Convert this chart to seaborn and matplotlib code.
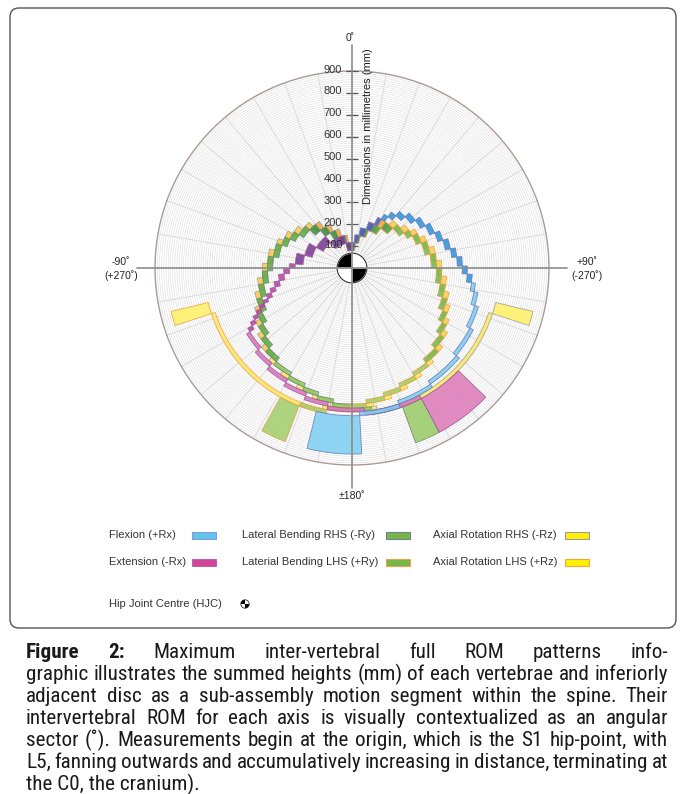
import numpy as np
import pandas as pd
import matplotlib
matplotlib.use('Agg')
import matplotlib.pyplot as plt
from matplotlib import font_manager
from matplotlib.patches import Rectangle, FancyBboxPatch, Wedge, Circle
import seaborn as sns

# motion segments from the S1 hip-point outwards, C0 = cranium
segments = ['L5', 'L4', 'L3', 'L2', 'L1',
            'T12', 'T11', 'T10', 'T9', 'T8', 'T7', 'T6', 'T5', 'T4', 'T3', 'T2', 'T1',
            'C7', 'C6', 'C5', 'C4', 'C3', 'C2', 'C1', 'C0']
region = ['lumbar'] * 5 + ['thoracic'] * 12 + ['cervical'] * 7 + ['cranium']
heights_mm = [36, 36, 36, 36, 36,
              26, 26, 25, 25, 24, 24, 24, 24, 23, 23, 23, 23,
              18, 18, 18, 18, 18, 17, 18, 175]
origin_mm = 80

# inter-vertebral ROM per segment (degrees)
flexion = [5, 7, 8, 7, 4, 4, 5, 6, 7, 7, 7, 6, 6, 5, 5, 4, 4, 4, 6, 10, 13, 16, 15, 16, 17]
extension = [14, 26, 20, 15, 11, 4, 5, 5, 4, 3, 3, 2, 2, 2, 2, 2, 2, 9, 9, 10, 10, 10, 15, 23, 18]
lat_bend_rhs = [12, 12, 8, 8, 8, 10, 7, 7, 10, 10, 8, 8, 8, 6, 6, 6, 7, 9, 8, 7, 7, 8, 8, 12, 8]
lat_bend_lhs = [8, 7, 9, 12, 10, 10, 6, 8, 10, 10, 10, 8, 7, 6, 6, 7, 8, 8, 8, 8, 8, 7, 9, 11, 8]
axial_rot_rhs = [8, 10, 9, 8, 8, 9, 8, 8, 9, 10, 9, 8, 8, 7, 6, 6, 7, 8, 9, 8, 8, 9, 10, 62, 4.5]
axial_rot_lhs = [6, 8, 8, 9, 10, 10, 7, 8, 9, 10, 10, 9, 7, 7, 6, 7, 8, 8, 8, 8, 8, 9, 12, 60, 4.5]

r_ticks = [100, 200, 300, 400, 500, 600, 700, 800, 900]

caption = [
    'Figure 2: Maximum inter-vertebral full ROM patterns info-',
    'graphic illustrates the summed heights (mm) of each vertebrae and inferiorly',
    'adjacent disc as a sub-assembly motion segment within the spine. Their',
    'intervertebral ROM for each axis is visually contextualized as an angular',
    'sector (\u02da).  Measurements begin at the origin, which is the S1 hip-point, with',
    'L5, fanning outwards and accumulatively increasing in distance, terminating at',
    'the C0, the cranium).',
]

sns.set_theme(style='white')
installed = {f.name for f in font_manager.fontManager.ttflist}
plt.rcParams['font.family'] = ['Liberation Sans', 'DejaVu Sans']
narrow = 'Liberation Sans'
for cand in ['Liberation Sans Narrow', 'Roboto Condensed', 'Arial Narrow']:
    if cand in installed:
        narrow = cand
        break

W, H = 683, 794
cx, cy, rad = 352, 268, 197
fig = plt.figure(figsize=(W / 100, H / 100), dpi=100)
ax = fig.add_axes([(cx - rad) / W, 1 - (cy + rad) / H, 2 * rad / W, 2 * rad / H], projection='polar')
ax.set_theta_zero_location('N')
ax.set_theta_direction(-1)
ax.set_ylim(0, 900)
ax.set_rticks(np.arange(10, 900, 10))
ax.set_thetagrids(np.arange(0, 360, 10), labels=[])
ax.set_yticklabels([])
ax.yaxis.grid(True, color='#dcdcdc', lw=0.4)
ax.xaxis.grid(True, color='#d2d2d2', lw=0.55)
ax.spines['polar'].set_color('#a89a92')
ax.spines['polar'].set_linewidth(1.0)
ax.set_axisbelow(True)

shades = {
    'flex': ['#4c5dbb', '#2e96da', '#7dcef1', '#80d0f2'],
    'ext': ['#7a3d96', '#b6479f', '#dc76b9', '#de7cba'],
    'lbr': ['#3f8f3c', '#5fac45', '#8ec85e', '#9bcb68'],
    'lbl': ['#4e9b47', '#72bb52', '#9dd06c', '#a3cf6f'],
    'arr': ['#f3a53c', '#fbc94c', '#fde863', '#fff06a'],
    'arl': ['#f5a43a', '#fccf52', '#ffe866', '#fff06a'],
}
edges = {'flex': '#6b78b8', 'ext': '#9c5a9a', 'lbr': '#6f8a78',
         'lbl': '#e8a04a', 'arr': '#a09e90', 'arl': '#f0a040'}
region_idx = {'lumbar': 0, 'thoracic': 1, 'cervical': 2, 'cranium': 3}

series = [('arr', axial_rot_rhs, -1), ('arl', axial_rot_lhs, 1),
          ('lbr', lat_bend_rhs, -1), ('lbl', lat_bend_lhs, 1),
          ('ext', extension, -1), ('flex', flexion, 1)]

r_in = origin_mm + np.concatenate([[0], np.cumsum(heights_mm)[:-1]])
rows = []
for key, rom, sign in series:
    end = sign * np.cumsum(rom)
    start = end - sign * np.array(rom)
    for i, seg in enumerate(segments):
        rows.append(dict(series=key, segment=seg, start=start[i], end=end[i],
                         r0=r_in[i], h=heights_mm[i],
                         color=shades[key][region_idx[region[i]]]))
df = pd.DataFrame(rows)

for key, g in df.groupby('series', sort=False):
    mid = np.deg2rad((g['start'] + g['end']) / 2)
    wid = np.deg2rad((g['end'] - g['start']).abs())
    ax.bar(mid, g['h'], width=wid, bottom=g['r0'], color=g['color'],
           edgecolor=edges[key], linewidth=0.6, alpha=0.88, zorder=3)

# hip joint centre symbol
ax.bar(0, 68, width=2 * np.pi, bottom=0, color='white', zorder=6)
ax.bar(np.deg2rad([315, 135]), 68, width=np.pi / 2, bottom=0, color='black', zorder=7)
tt = np.linspace(0, 2 * np.pi, 100)
ax.plot(tt, np.full_like(tt, 68), color='#333333', lw=0.8, zorder=8)

# radial scale on the 0 deg axis
ax.plot(np.zeros(len(r_ticks)), r_ticks, ls='none', marker='_', ms=8, mew=0.9,
        color='#555555', clip_on=False, zorder=9)
for r in r_ticks:
    ax.annotate(str(r), xy=(0, r), xytext=(-7, 1), textcoords='offset points',
                ha='right', va='center', fontsize=8, color='#333333',
                annotation_clip=False, zorder=9)

# overlay in pixel coordinates
ov = fig.add_axes([0, 0, 1, 1], zorder=5)
ov.set_xlim(0, W)
ov.set_ylim(H, 0)
ov.axis('off')
ov.patch.set_visible(False)

ov.plot([137, 567], [cy, cy], color='#8c8c8c', lw=1.2)
ov.plot([cx, cx], [45, 488], color='#8c8c8c', lw=1.2)
ov.text(cx - 2, 38, '0\u02da', ha='center', va='center', fontsize=7.5, color='#222222')
ov.text(cx, 496, '\u00b1180\u02da', ha='center', va='center', fontsize=7.5, color='#222222')
ov.text(121, 262, '-90\u02da', ha='center', va='center', fontsize=7.5, color='#222222')
ov.text(121, 276, '(+270\u02da)', ha='center', va='center', fontsize=7.5, color='#222222')
ov.text(587, 262, '+90\u02da', ha='center', va='center', fontsize=7.5, color='#222222')
ov.text(587, 276, '(-270\u02da)', ha='center', va='center', fontsize=7.5, color='#222222')
ov.text(368, 126, 'Dimensions in millimetres (mm)', rotation=90, ha='center', va='center',
        fontsize=8, color='#222222')

# legend
legend_items = [
    ('Flexion (+Rx)', 109, 535, 192, '#5cc6f0', '#8a9bd0'),
    ('Extension (-Rx)', 109, 562, 192, '#d3449b', '#b06aa0'),
    ('Lateral Bending RHS (-Ry)', 242, 535, 386, '#78b646', '#6f7f9a'),
    ('Laterial Bending LHS (+Ry)', 242, 562, 386, '#78b646', '#f0a050'),
    ('Axial Rotation RHS (-Rz)', 433, 535, 565, '#fff200', '#9a9aa6'),
    ('Axial Rotation LHS (+Rz)', 433, 562, 565, '#fff200', '#f5a83a'),
]
for label, tx, ty, sx, fc, ec in legend_items:
    ov.text(tx, ty, label, ha='left', va='center', fontsize=8, color='#333333')
    ov.add_patch(Rectangle((sx, ty - 3.5), 24, 7, facecolor=fc, edgecolor=ec, lw=0.8))
ov.text(109, 604, 'Hip Joint Centre (HJC)', ha='left', va='center', fontsize=8, color='#333333')
ov.add_patch(Circle((245, 604), 4.2, facecolor='white', edgecolor='#333333', lw=0.6))
ov.add_patch(Wedge((245, 604), 4.2, 180, 270, facecolor='black', lw=0))
ov.add_patch(Wedge((245, 604), 4.2, 0, 90, facecolor='black', lw=0))

# frame
ov.add_patch(FancyBboxPatch((10, 8), 666, 620, boxstyle='round,pad=0,rounding_size=9',
                            fill=False, edgecolor='#555555', lw=1.0))

# justified caption
renderer = fig.canvas.get_renderer()


def measure(s, size, weight='normal'):
    t = ov.text(0, 0, s, fontsize=size, fontweight=weight, family=narrow)
    w = t.get_window_extent(renderer).width
    t.remove()
    return w


x0, x1, y0, dy = 26, 668, 652, 22
words = [ln.split() for ln in caption]
base = 12
sp = measure('a a', base) - measure('aa', base)
nat = sum(measure(w, base) for w in words[1]) + sp * (len(words[1]) - 1)
size = base * (x1 - x0 - 4) / nat
for k, ws in enumerate(words):
    y = y0 + k * dy
    if k == len(words) - 1:
        ov.text(x0, y, caption[k], fontsize=size, family=narrow,
                ha='left', va='center', color='#1a1a1a')
        continue
    weights = ['bold' if (k == 0 and i < 2) else 'normal' for i in range(len(ws))]
    widths = [measure(w, size, wt) for w, wt in zip(ws, weights)]
    gap = (x1 - x0 - sum(widths)) / (len(ws) - 1)
    x = x0
    for w, wt, wd in zip(ws, weights, widths):
        ov.text(x, y, w, fontsize=size, fontweight=wt, family=narrow,
                ha='left', va='center', color='#1a1a1a')
        x += wd + gap

fig.savefig('out.png', dpi=100)
